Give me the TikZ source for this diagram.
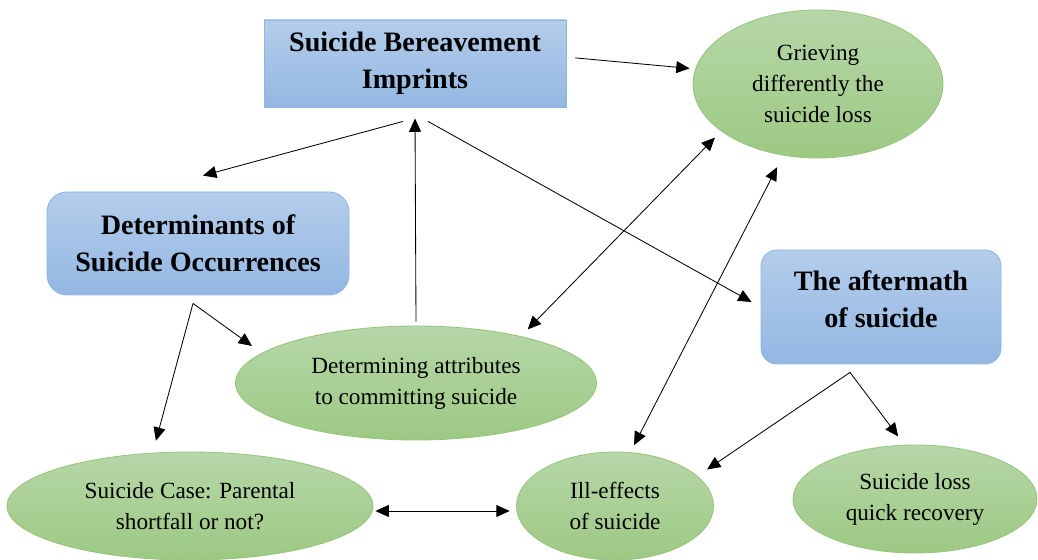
\documentclass[tikz,border=0pt]{standalone}
\usepackage{fontspec}
\setmainfont{Liberation Serif}
\usepackage{tikz}
\usetikzlibrary{arrows.meta,positioning,calc,shapes.geometric}
\definecolor{bluetop}{HTML}{B4CDEA}
\definecolor{bluebot}{HTML}{93B7E3}
\definecolor{blueline}{HTML}{8FB5E2}
\definecolor{greentop}{HTML}{B6D7A8}
\definecolor{greenbot}{HTML}{9DC983}
\definecolor{greenline}{HTML}{98C47C}
\newcommand{\headfont}{\fontsize{20}{26.5}\selectfont\bfseries}
\newcommand{\bodyfont}{\fontsize{16.5}{22}\selectfont}

\begin{document}
\begin{tikzpicture}[
    theme/.style={draw=blueline, line width=0.6pt, top color=bluetop,
                  bottom color=bluebot, align=center, font=\headfont},
    idea/.style={ellipse, draw=greenline, line width=0.6pt, inner sep=0pt,
                 top color=greentop, bottom color=greenbot, align=center,
                 font=\bodyfont},
    conn/.style={-{Triangle[length=9.5pt,width=8.5pt]}, line width=0.6pt},
    biconn/.style={{Triangle[length=9.5pt,width=8.5pt]}-{Triangle[length=9.5pt,width=8.5pt]},
                   line width=0.6pt}
  ]
  \useasboundingbox (0,0) rectangle (25.95,14);

  % Blue themes
  \node[theme, minimum width=7.55cm, minimum height=2.175cm]
       (imprints) at (10.375,12.4125) {Suicide Bereavement\\Imprints};
  \node[theme, rounded corners=0.5cm, minimum width=7.55cm, minimum height=2.575cm]
       (determ) at (4.95,7.9125) {Determinants of\\Suicide Occurrences};
  \node[theme, rounded corners=0.4cm, minimum width=6cm, minimum height=2.85cm]
       (aftermath) at (22.025,6.325) {The aftermath\\of suicide\\[-0.55cm]};

  % Green ideas
  \node[idea, minimum width=6.25cm, minimum height=3.7cm]
       (grieving) at (20.45,11.9) {Grieving\\differently the\\suicide loss};
  \node[idea, minimum width=9.025cm, minimum height=2.85cm]
       (attributes) at (10.4,4.425) {Determining attributes\\to committing suicide};
  \node[idea, minimum width=9.15cm, minimum height=2.7cm]
       (parental) at (4.75,1.35) {Suicide Case: Parental\\shortfall or not?};
  \node[idea, minimum width=4.925cm, minimum height=2.7cm]
       (illeffects) at (15.375,1.35) {Ill-effects\\of suicide};
  \node[idea, minimum width=6.1cm, minimum height=2.7cm]
       (recovery) at (22.875,1.525) {Suicide loss\\quick recovery};

  % Fork points
  \coordinate (detfork) at ([xshift=-1.25mm,yshift=-2mm]determ.south);
  \coordinate (aftfork) at ([xshift=-7.75mm,yshift=-2mm]aftermath.south);

  % Imprints -> others
  \draw[conn, shorten >=1.4mm] ([xshift=2.25mm,yshift=1.4mm]imprints.east) -- (grieving.173);
  \draw[conn] ([xshift=-3mm,yshift=-3.5mm]imprints.south) -- ([xshift=1.25mm,yshift=4mm]determ.north);
  \draw[conn] ([xshift=3.25mm,yshift=-3.5mm]imprints.south) -- ([xshift=-2.25mm,yshift=1.25mm]aftermath.west);
  \draw[conn] ([yshift=1mm]attributes.north) -- ([yshift=-2.75mm]imprints.south);

  % Two-way links
  \draw[biconn, shorten <=2.4mm, shorten >=2.2mm] (attributes.24.7) -- (grieving.206.8);
  \draw[biconn, shorten <=2mm, shorten >=3.3mm] (illeffects.74.4) -- (grieving.244.3);
  \draw[biconn] ([xshift=0.5mm,yshift=-1.25mm]parental.east) -- ([xshift=-1.6mm,yshift=-1.25mm]illeffects.west);

  % Determinants -> ideas
  \draw[conn, shorten >=3mm] (detfork) -- (attributes.169.5);
  \draw[conn, shorten >=3.1mm] (detfork) -- (parental.125.5);

  % Aftermath -> ideas
  \draw[conn, shorten >=2.9mm] (aftfork) -- (illeffects.20.1);
  \draw[conn, shorten >=2.6mm] (aftfork) -- (recovery.101.5);
\end{tikzpicture}
\end{document}
